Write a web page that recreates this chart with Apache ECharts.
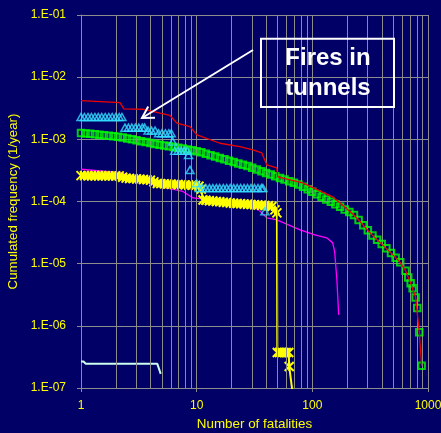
<!DOCTYPE html>
<html><head><meta charset="utf-8">
<script src="https://cdn.jsdelivr.net/npm/echarts@6/dist/echarts.min.js"></script>
<style>html,body{margin:0;padding:0;background:#000066;}#c{width:441px;height:433px;}</style>
</head><body><div id="c"></div>
<script>
// ---- data ----
const xTickLabels = ['1', '10', '100', '1000'];
const yTickLabels = ['1.E-07', '1.E-06', '1.E-05', '1.E-04', '1.E-03', '1.E-02', '1.E-01'];
const minorGridX = [2,3,4,5,6,7,8,9,20,30,40,50,60,70,80,90,200,300,400,500,600,700,800,900];

const redN = [1, 2.17, 2.35, 3.43, 4.82, 5.87, 6.75, 8.74, 10.06, 15.9, 23.6, 30.6, 36.6, 40.4, 49.3, 50.3, 82.7, 150, 229, 331, 478, 575, 640, 708, 782, 840, 881];
const redF = [4.19e-3, 3.89e-3, 3.08e-3, 3.05e-3, 2.63e-3, 2.42e-3, 1.82e-3, 1.60e-3, 1.18e-3, 8.65e-4, 7.64e-4, 6.76e-4, 6.04e-4, 3.87e-4, 3.47e-4, 2.49e-4, 1.99e-4, 1.19e-4, 6.07e-5, 2.85e-5, 1.49e-5, 1.05e-5, 7.66e-6, 4.86e-6, 2.85e-6, 7.92e-7, 2.28e-7];

const greenN = [1.000,1.096,1.202,1.318,1.445,1.585,1.738,1.905,2.089,2.291,2.512,2.754,3.020,3.311,3.631,3.981,4.365,4.786,5.248,5.754,6.310,6.918,7.586,8.318,9.120,10.00,10.96,12.02,13.18,14.45,15.85,17.38,19.05,20.89,22.91,25.12,27.54,30.20,33.11,36.31,39.81,43.65,47.86,52.48,57.54,63.10,69.18,75.86,83.18,91.20,100.0,109.6,120.2,131.8,144.5,158.5,173.8,190.5,208.9,229.1,251.2,275.4,302.0,331.1,363.1,398.1,436.5,478.6,524.8,575.4,639.7,674.5,707.9,736.2,781.6,807.2,839.5,881.0];
const greenF = [1.27e-3,1.245e-3,1.225e-3,1.202e-3,1.183e-3,1.161e-3,1.140e-3,1.122e-3,1.102e-3,1.072e-3,1.035e-3,1.000e-3,9.66e-4,9.33e-4,9.04e-4,8.73e-4,8.43e-4,8.15e-4,7.94e-4,7.74e-4,7.55e-4,7.35e-4,7.13e-4,6.89e-4,6.65e-4,6.43e-4,6.18e-4,5.86e-4,5.56e-4,5.28e-4,5.02e-4,4.78e-4,4.54e-4,4.32e-4,4.10e-4,3.90e-4,3.71e-4,3.48e-4,3.27e-4,3.07e-4,2.88e-4,2.71e-4,2.55e-4,2.39e-4,2.25e-4,2.12e-4,2.00e-4,1.88e-4,1.73e-4,1.58e-4,1.44e-4,1.31e-4,1.19e-4,1.08e-4,9.89e-5,9.0e-5,8.2e-5,7.46e-5,6.79e-5,6.07e-5,5.02e-5,4.16e-5,3.44e-5,2.85e-5,2.43e-5,2.07e-5,1.77e-5,1.49e-5,1.25e-5,1.05e-5,7.66e-6,5.98e-6,4.86e-6,4.04e-6,2.85e-6,1.93e-6,7.92e-7,2.28e-7];

const cyanN = [1,1.07,1.15,1.23,1.32,1.41,1.51,1.62,1.74,1.86,2.0,2.14,2.26,2.40,2.57,2.75,2.95,3.16,3.39,3.55,3.80,4.07,4.37,4.68,5.01,5.37,5.75,6.03,6.2,6.45,6.9,7.35,7.8,8.3,8.5,8.75,10.0,10.5,11.2,12.0,12.9,13.8,14.8,15.8,17.0,18.2,19.5,20.9,22.4,24.0,25.7,27.5,29.5,31.6,33.9,36.3,37.4,38.9];
const cyanF = [2.29e-3,2.29e-3,2.29e-3,2.29e-3,2.29e-3,2.29e-3,2.29e-3,2.29e-3,2.29e-3,2.29e-3,2.29e-3,2.29e-3,2.29e-3,
  1.54e-3,1.54e-3,1.54e-3,1.54e-3,1.54e-3,1.54e-3,1.54e-3,
  1.38e-3,1.38e-3,1.38e-3,
  1.25e-3,1.25e-3,1.25e-3,1.25e-3,1.25e-3,
  9.2e-4,
  6.52e-4,6.52e-4,6.52e-4,6.52e-4,6.52e-4,
  5.61e-4,3.22e-4,1.97e-4,
  1.64e-4,1.64e-4,1.64e-4,1.64e-4,1.64e-4,1.64e-4,1.64e-4,1.64e-4,1.64e-4,1.64e-4,1.64e-4,1.64e-4,1.64e-4,1.64e-4,1.64e-4,1.64e-4,1.64e-4,1.64e-4,1.64e-4,1.64e-4,
  6.93e-5];

const yellowN = [1.000,1.072,1.148,1.230,1.318,1.413,1.514,1.622,1.738,1.862,1.995,2.138,2.291,2.455,2.630,2.818,3.020,3.236,3.467,3.715,3.981,4.266,4.571,4.898,5.248,5.623,6.026,6.457,6.918,7.413,7.943,8.511,9.120,9.772,10.47,10.96,11.35,12.02,12.88,13.80,14.79,15.85,16.98,18.20,19.50,20.89,22.39,23.99,25.70,27.54,29.51,31.62,33.88,36.31,38.90,41.69,44.67,47.5,49.4,49.8,52.0,54.5,57.0,59.5,62.5,63.1,67.0];
const yellowF = [2.61e-4,2.61e-4,2.60e-4,2.60e-4,2.59e-4,2.59e-4,2.59e-4,2.59e-4,2.58e-4,2.58e-4,2.58e-4,2.58e-4,2.45e-4,2.38e-4,2.35e-4,2.33e-4,2.31e-4,2.29e-4,2.26e-4,2.24e-4,2.21e-4,2.07e-4,1.95e-4,1.94e-4,1.92e-4,1.91e-4,1.90e-4,1.89e-4,1.88e-4,1.87e-4,1.85e-4,1.84e-4,1.83e-4,1.82e-4,1.76e-4,1.58e-4,1.06e-4,1.05e-4,1.03e-4,1.02e-4,1.00e-4,9.89e-5,9.75e-5,9.61e-5,9.48e-5,9.40e-5,9.31e-5,9.22e-5,9.12e-5,9.03e-5,8.95e-5,8.87e-5,8.79e-5,8.69e-5,8.61e-5,8.53e-5,8.32e-5,7.33e-5,6.56e-5,3.72e-7,3.72e-7,3.72e-7,3.72e-7,3.72e-7,3.72e-7,2.22e-7,9.35e-8];

const magentaN = [1, 2.17, 4.82, 7.6, 9.3, 13.8, 31.9, 36.6, 40.4, 49.3, 78.5, 105, 133, 150, 156, 163, 169];
const magentaF = [3.3e-4, 2.92e-4, 1.74e-4, 1.45e-4, 1.14e-4, 1.06e-4, 8.2e-5, 6.56e-5, 5.45e-5, 5.06e-5, 3.49e-5, 2.9e-5, 2.6e-5, 2.16e-5, 1.55e-5, 5.5e-6, 1.5e-6];

const paleN = [1, 1.05, 1.10, 4.57, 4.89];
const paleF = [2.67e-7, 2.67e-7, 2.45e-7, 2.45e-7, 1.69e-7];

// ---- chart ----
const BG = '#000066', GRID = '#8c8c8c', YEL = '#ffff00', FONT = '"Liberation Sans", Arial, sans-serif';
const zip = (a, b) => a.map((v, i) => [v, b[i]]);
const STAR = 'path://M5,0L5,10M0,0L10,10M0,10L10,0';

const chart = echarts.init(document.getElementById('c'), null, {renderer: 'canvas'});
chart.setOption({
  animation: false,
  backgroundColor: BG,
  grid: {left: 81, top: 15, width: 347, height: 373, containLabel: false, outerBoundsMode: 'none'},
  xAxis: {
    type: 'log', logBase: 10, min: 1, max: 1000,
    name: 'Number of fatalities', nameLocation: 'middle', nameGap: 30,
    nameTextStyle: {color: YEL, fontSize: 13.4, fontFamily: FONT},
    axisLine: {lineStyle: {color: GRID, width: 1}},
    axisTick: {show: true, length: 4, lineStyle: {color: GRID}},
    axisLabel: {color: YEL, fontSize: 12, fontFamily: FONT, margin: 12,
      formatter: v => xTickLabels[Math.round(Math.log10(v))]},
    splitLine: {show: true, lineStyle: {color: GRID, width: 1}}
  },
  yAxis: {
    type: 'log', logBase: 10, min: 1e-7, max: 0.1,
    name: 'Cumulated frequency (1/year)', nameLocation: 'middle', nameGap: 59,
    nameTextStyle: {color: YEL, fontSize: 13.3, fontFamily: FONT},
    axisLine: {lineStyle: {color: GRID, width: 1}},
    axisTick: {show: true, length: 4, lineStyle: {color: GRID}},
    axisLabel: {color: YEL, fontSize: 12, fontFamily: FONT, margin: 15,
      formatter: v => yTickLabels[Math.round(Math.log10(v)) + 7]},
    splitLine: {show: true, lineStyle: {color: GRID, width: 1}}
  },
  series: [
    {
      type: 'line', z: 1, silent: true, data: [[1, 1e-7]], symbol: 'none', lineStyle: {opacity: 0},
      markLine: {silent: true, symbol: ['none', 'none'], label: {show: false}, animation: false,
        lineStyle: {color: GRID, width: 1, type: 'solid'},
        emphasis: {disabled: true},
        data: minorGridX.map(v => ({xAxis: v}))}
    },
    {type: 'line', z: 3, data: zip(paleN, paleF), symbol: 'none', lineStyle: {color: '#ccffee', width: 2}},
    {type: 'line', z: 3, data: zip(magentaN, magentaF), symbol: 'none', lineStyle: {color: '#ff00ff', width: 1.3}},
    {type: 'line', z: 4, data: zip(yellowN, yellowF), symbol: STAR, symbolSize: 9, showAllSymbol: true,
      lineStyle: {color: YEL, width: 2},
      itemStyle: {color: 'rgba(0,0,0,0)', borderColor: YEL, borderWidth: 2}},
    {type: 'scatter', z: 5, data: zip(greenN, greenF), symbol: 'rect', symbolSize: 6.5,
      itemStyle: {color: 'rgba(0,0,0,0)', borderColor: '#00ff00', borderWidth: 2}},
    {type: 'scatter', z: 6, data: zip(cyanN, cyanF), symbol: 'triangle', symbolSize: [8, 7],
      itemStyle: {color: 'rgba(0,0,0,0)', borderColor: '#33ddff', borderWidth: 1.5}},
    {type: 'line', z: 7, data: zip(redN, redF), symbol: 'none', lineStyle: {color: '#f00000', width: 1.3}}
  ],
  graphic: [
    {type: 'line', z: 100, shape: {x1: 253, y1: 50, x2: 142, y2: 118}, style: {stroke: '#ffffff', lineWidth: 2}},
    {type: 'polyline', z: 100, shape: {points: [[155, 117.7], [142, 118], [148.2, 106.6]]}, style: {stroke: '#ffffff', lineWidth: 2, fill: null}},
    {type: 'rect', z: 100, shape: {x: 261, y: 38.7, width: 133, height: 68.3}, style: {stroke: '#ffffff', lineWidth: 2, fill: 'none'}},
    {type: 'text', z: 100, x: 328, y: 73, style: {text: 'Fires in\ntunnels', fill: '#ffffff',
      font: 'bold 24px "Liberation Sans", Arial, sans-serif', align: 'center', verticalAlign: 'middle', lineHeight: 30}}
  ]
});
</script></body></html>
